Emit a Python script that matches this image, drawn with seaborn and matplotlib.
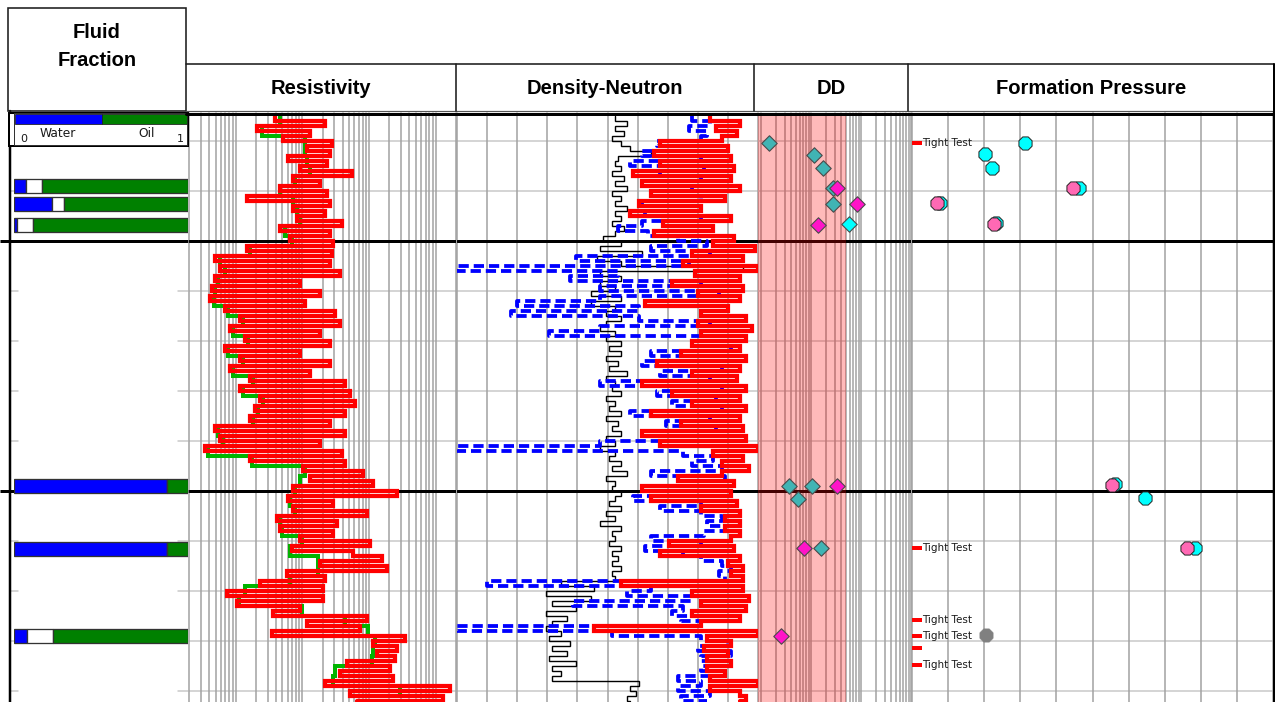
import numpy as np
import matplotlib
matplotlib.use("Agg")
import matplotlib.pyplot as plt
from matplotlib.patches import Rectangle
from matplotlib.ticker import NullLocator
import seaborn as sns

sns.set_theme(style="white")
plt.rcParams["font.family"] = ["DejaVu Sans"]

# ---------------------------------------------------------------- data
# Logs sampled every 1 m from 2025 m (shallow resistivity every 2 m)
res_deep = [3.9, 21.8, 2.1, 13, 5.1, 27.7, 11.7, 25.9, 6.1, 23.3,
            9.2, 55, 7.2, 18.4, 4.6, 23.3, 1.5, 25.9, 7.2, 21.8,
            8.3, 39, 4.6, 25.9, 6.5, 28.6, 1.5, 27.7, 0.49, 25.9,
            0.58, 36.6, 0.49, 9.2, 0.44, 18.4, 0.41, 10.9, 0.69, 30.8,
            1.16, 36.6, 0.82, 18.4, 1.38, 25.9, 0.69, 9.2, 1.16, 25.9,
            0.82, 13, 1.64, 43.5, 1.16, 51.6, 2.3, 61, 1.95, 43.5,
            1.64, 25.9, 0.49, 43.5, 0.58, 18.4, 0.35, 39, 1.64, 43.5,
            10.2, 81, 13, 114, 7.2, 261, 6.1, 28.6, 7.2, 93,
            4.2, 33, 4.6, 28.6, 9.2, 103, 7.0, 57, 156, 18.4,
            185, 5.9, 21.8, 2.3, 20.3, 0.74, 20.3, 1.05, 9.2, 3.6,
            93, 11.7, 73, 3.5, 344, 114, 261, 131, 244, 47,
            205, 36.6, 228, 21.8, 1625, 51.6, 1277, 66]

res_shallow = [4.6, 2.5, 10.9, 10.9, 11.7, 13, 7.7, 4.6, 7.2, 8.3,
               9.2, 5.5, 7.0, 1.64, 0.58, 0.69, 0.54, 0.49, 0.47, 0.77,
               1.29, 0.91, 1.53, 0.77, 1.29, 0.91, 1.82, 1.29, 2.57, 2.16,
               1.82, 0.54, 0.65, 0.39, 1.76, 10.9, 9.2, 7.7, 6.5, 7.7,
               4.6, 4.9, 9.8, 6.5, 17.2, 17.2, 6.5, 1.38, 1.11, 9.8,
               43.5, 96, 122, 114, 110, 30.8, 28.6, 290, 61]

bulk_density = [2.80, 2.90, 2.82, 2.89, 2.84, 2.63, 2.86, 2.61, 2.87, 2.63,
                2.88, 2.54, 2.87, 2.57, 2.90, 2.60, 2.85, 2.56, 2.77, 2.53,
                2.87, 2.64, 2.81, 2.61, 2.88, 2.81, 2.95, 2.74, 2.91, 2.71,
                2.96, 2.75, 2.90, 2.67, 2.91, 2.76, 2.90, 2.58, 2.86, 2.77,
                2.92, 2.76, 2.94, 2.77, 2.92, 2.74, 2.90, 2.70, 2.92, 2.62,
                2.90, 2.74, 2.89, 2.57, 2.92, 2.67, 2.90, 2.74, 2.92, 2.60,
                2.90, 2.70, 2.91, 2.57, 2.92, 2.63, 2.96, 2.81, 2.91, 2.84,
                2.93, 2.84, 2.69, 2.88, 2.57, 2.87, 2.60, 2.89, 2.77, 2.90,
                2.85, 2.90, 2.85, 2.90, 2.87, 2.66, 2.88, 2.63, 2.90, 2.86,
                2.91, 2.87, 2.91, 2.50, 2.91, 2.74, 2.93, 2.77, 2.92, 2.74,
                2.90, 2.77, 2.41, 2.96, 2.79, 2.87, 2.78, 2.86, 2.79, 2.87,
                2.79, 2.85, 2.80, 2.96, 2.80, 2.90, 2.92, 2.90]

neutron = [2.74, 2.80, 2.73, 2.79, 2.77, 2.62, 2.81, 2.57, 2.77, 2.53,
           2.78, 2.63, 2.77, 2.57, 2.74, 2.60, 2.77, 2.57, 2.74, 2.58,
           2.77, 2.57, 2.49, 2.59, 2.69, 2.79, 2.60, 2.80, 2.35, 2.73,
           1.95, 2.49, 2.33, 2.77, 2.43, 2.83, 2.43, 2.15, 2.56, 2.13,
           2.56, 2.80, 2.43, 2.26, 2.77, 2.74, 2.87, 2.60, 2.82, 2.57,
           2.84, 2.63, 2.80, 2.43, 2.84, 2.62, 2.82, 2.67, 2.84, 2.53,
           2.80, 2.65, 2.82, 2.57, 2.84, 2.43, 1.95, 2.71, 2.81, 2.74,
           2.84, 2.60, 2.85, 2.80, 2.57, 2.77, 2.54, 2.77, 2.63, 2.77,
           2.84, 2.79, 2.85, 2.78, 2.60, 2.77, 2.58, 2.71, 2.77, 2.84,
           2.87, 2.83, 2.85, 2.05, 2.60, 2.52, 2.74, 2.34, 2.71, 2.67,
           2.78, 2.70, 1.95, 2.47, 2.77, 2.86, 2.76, 2.87, 2.77, 2.86,
           2.77, 2.85, 2.69, 2.77, 2.69, 2.80, 2.70, 2.79]

matrix_density = [2.48, 2.52, 2.48, 2.51, 2.47, 2.50, 2.53, 2.60, 2.49, 2.48,
                  2.50, 2.47, 2.51, 2.48, 2.52, 2.47, 2.50, 2.48, 2.52, 2.48,
                  2.50, 2.47, 2.51, 2.48, 2.44, 2.50, 2.43, 2.57, 2.42, 2.50,
                  2.91, 2.43, 2.50, 2.43, 2.48, 2.40, 2.50, 2.40, 2.48, 2.45,
                  2.50, 2.45, 2.43, 2.48, 2.45, 2.50, 2.46, 2.50, 2.45, 2.49,
                  2.46, 2.52, 2.45, 2.48, 2.47, 2.50, 2.45, 2.48, 2.46, 2.50,
                  2.45, 2.49, 2.47, 2.50, 2.45, 2.48, 2.43, 2.48, 2.46, 2.50,
                  2.47, 2.52, 2.45, 2.48, 2.47, 2.50, 2.48, 2.46, 2.50, 2.45,
                  2.48, 2.43, 2.50, 2.47, 2.48, 2.46, 2.50, 2.47, 2.49, 2.47,
                  2.50, 2.47, 2.48, 2.30, 2.41, 2.25, 2.40, 2.27, 2.35, 2.25,
                  2.32, 2.27, 2.25, 2.30, 2.26, 2.33, 2.27, 2.32, 2.26, 2.35,
                  2.27, 2.30, 2.27, 2.56, 2.53, 2.55, 2.52, 2.53]

# Fluid fractions at sampled depths (water / unresolved / oil)
ff_depth = [2039.0, 2042.6, 2046.8, 2099.0, 2111.5, 2129.0]
ff_water = [0.07, 0.22, 0.02, 0.88, 0.88, 0.075]
ff_other = [0.09, 0.07, 0.09, 0.0, 0.0, 0.15]
ff_oil = [0.84, 0.71, 0.89, 0.12, 0.12, 0.775]

# Drawdown mobility
dd_teal_depth = [2030.4, 2032.8, 2035.4, 2039.4, 2042.6, 2099.0, 2099.0, 2101.6, 2111.4]
dd_teal_value = [1.45, 11.5, 17.4, 27.5, 27.5, 3.6, 10.5, 5.5, 15.8]
dd_mag_depth = [2039.4, 2042.6, 2046.8, 2099.0, 2111.4, 2129.0]
dd_mag_value = [33, 83, 13.8, 33, 7.2, 2.5]
dd_cyan_depth = [2046.6]
dd_cyan_value = [57.5]
dd_band = (0.87, 50)

# Formation pressure
fp_cyan_depth = [2030.4, 2032.6, 2035.4, 2039.4, 2042.4, 2046.4, 2098.6, 2101.4, 2111.4]
fp_cyan_value = [3056, 3001, 3011, 3131, 2939, 3016, 3181, 3223, 3292]
fp_pink_depth = [2039.4, 2042.4, 2046.6, 2098.8, 2111.4]
fp_pink_value = [3123, 2935, 3014, 3177, 3281]
fp_grey_depth = [2128.8]
fp_grey_value = [3002]

tight_depth = [2030.4, 2111.4, 2125.8, 2129.0, 2131.4, 2134.8]
tight_value = [2907.6] * 6
tight_label = ["Tight Test", "Tight Test", "Tight Test", "Tight Test", "", "Tight Test"]

track_titles = ["Resistivity", "Density-Neutron", "DD", "Formation Pressure"]

depth_1m = np.arange(2025, 2025 + len(res_deep))
depth_2m = np.arange(2025, 2025 + 2 * len(res_shallow), 2)

# ---------------------------------------------------------------- layout
W, H = 1275, 702
TOP_DEPTH, BASE_DEPTH = 2024.4, 2142.2
Y0, Y1 = 113, 702
PX = 0.72  # points per pixel at 100 dpi

fig = plt.figure(figsize=(W / 100, H / 100), dpi=100)


def pix_axes(zorder):
    ax = fig.add_axes([0, 0, 1, 1], zorder=zorder)
    ax.set_xlim(0, W)
    ax.set_ylim(H, 0)
    ax.axis("off")
    ax.patch.set_alpha(0)
    return ax


bg = pix_axes(0)
top = pix_axes(20)


def track(x0, x1, zorder=2):
    ax = fig.add_axes([x0 / W, 1 - Y1 / H, (x1 - x0) / W, (Y1 - Y0) / H], zorder=zorder)
    ax.set_facecolor("none")
    for s in ax.spines.values():
        s.set_visible(False)
    return ax


def finish(ax, xlim, log=False):
    if log:
        ax.set_xscale("log")
    ax.set_xlim(*xlim)
    ax.set_ylim(BASE_DEPTH, TOP_DEPTH)
    ax.set_xlabel("")
    ax.set_ylabel("")
    ax.xaxis.set_major_locator(NullLocator())
    ax.xaxis.set_minor_locator(NullLocator())
    ax.yaxis.set_major_locator(NullLocator())
    ax.yaxis.set_minor_locator(NullLocator())
    ax.grid(False)


def depth_grid(ax):
    for d in range(2030, 2141, 10):
        if d in (2050, 2100):
            ax.axhline(d, color="black", lw=3 * PX, zorder=1.2)
        else:
            ax.axhline(d, color="#c8c8c8", lw=1.5 * PX, zorder=0.5)


def vgrid(ax, values):
    for v in values:
        ax.axvline(v, color="#a0a0a0", lw=1.5 * PX, zorder=0.6, clip_on=False)


def curve(ax, values, depth, color, lw, z, ls="-"):
    sns.lineplot(x=values, y=depth, orient="y", sort=False, estimator=None,
                 color=color, linewidth=lw, linestyle=ls, drawstyle="steps-pre",
                 solid_joinstyle="miter", zorder=z, legend=False, ax=ax)


# ---- Resistivity track
ax_res = track(189, 456)
ax_res.set_xscale("log")
res_grid = [m * 10.0 ** e for e in range(-1, 4) for m in range(1, 10)]
res_grid = [v for v in res_grid if 0.2 <= v <= 2000]
vgrid(ax_res, res_grid)
depth_grid(ax_res)
curve(ax_res, res_shallow, depth_2m, "#00b400", 4 * PX, 2)
curve(ax_res, res_deep, depth_1m, "#ff0000", 4.2 * PX, 3)
finish(ax_res, (0.2, 2000), log=True)

# ---- Density-neutron track
ax_dn = track(457, 758)
vgrid(ax_dn, np.linspace(1.95, 2.96, 11))
depth_grid(ax_dn)
curve(ax_dn, matrix_density, depth_1m, "black", 1.4 * PX, 2)
curve(ax_dn, neutron, depth_1m, "#0000ff", 3.8 * PX, 3, ls=(0, (2.7, 1.3)))
curve(ax_dn, bulk_density, depth_1m, "#ff0000", 4.2 * PX, 4)
finish(ax_dn, (1.95, 2.96))

# ---- DD track
ax_dd = track(758, 911)
ax_dd.set_xscale("log")
dd_grid = [m * 10.0 ** e for e in range(0, 3) for m in range(1, 10)] + [1000]
vgrid(ax_dd, dd_grid)
depth_grid(ax_dd)
ax_dd.axvspan(*dd_band, color="#ff0000", alpha=0.27, lw=0, zorder=1.5)
sns.scatterplot(x=dd_teal_value, y=dd_teal_depth, marker="D", s=62, color="#40b4b4",
                edgecolor="#4a4a4a", linewidth=0.8, zorder=5, legend=False, ax=ax_dd)
sns.scatterplot(x=dd_mag_value, y=dd_mag_depth, marker="D", s=62, color="#ff14c8",
                edgecolor="#4a4a4a", linewidth=0.8, zorder=6, legend=False, ax=ax_dd)
sns.scatterplot(x=dd_cyan_value, y=dd_cyan_depth, marker="D", s=62, color="#00ffff",
                edgecolor="#4a4a4a", linewidth=0.8, zorder=6, legend=False, ax=ax_dd)
finish(ax_dd, (0.87, 1000), log=True)

# ---- Formation pressure track
ax_fp = track(912, 1273)
vgrid(ax_fp, np.arange(2900, 3401, 50))
depth_grid(ax_fp)
sns.scatterplot(x=fp_cyan_value, y=fp_cyan_depth, marker="8", s=105, color="#00ffff",
                edgecolor="#222222", linewidth=0.7, zorder=5, legend=False, ax=ax_fp)
sns.scatterplot(x=fp_pink_value, y=fp_pink_depth, marker="8", s=105, color="#ff69b4",
                edgecolor="#222222", linewidth=0.7, zorder=6, legend=False, ax=ax_fp)
sns.scatterplot(x=fp_grey_value, y=fp_grey_depth, marker="8", s=105, color="#808080",
                edgecolor="#808080", linewidth=0.5, zorder=6, legend=False, ax=ax_fp)
dash = [(-1, -0.4), (1, -0.4), (1, 0.4), (-1, 0.4)]
sns.scatterplot(x=tight_value, y=tight_depth, marker=dash, s=45, color="#ff0000",
                linewidth=0, zorder=7, legend=False, ax=ax_fp)
for p, d, lab in zip(tight_value, tight_depth, tight_label):
    if lab:
        ax_fp.annotate(lab, (p, d), xytext=(3.6, -0.3), textcoords="offset points",
                       ha="left", va="center", fontsize=7.5, color="#1a1a1a", zorder=8)
finish(ax_fp, (2900, 3400))

# ---- Fluid fraction track
ax_ff = track(14, 188, zorder=3)
left_other = [w for w in ff_water]
left_oil = [w + o for w, o in zip(ff_water, ff_other)]
bar_kw = dict(height=2.8, edgecolor="#333333", linewidth=1.3 * PX, zorder=3)
ax_ff.barh(ff_depth, ff_water, left=0, color="#0000ff", **bar_kw)
ax_ff.barh(ff_depth, ff_other, left=left_other, color="white", **bar_kw)
ax_ff.barh(ff_depth, ff_oil, left=left_oil, color="#008000", **bar_kw)
finish(ax_ff, (0, 1))

# ---------------------------------------------------------------- frame
def yd(d):
    return 241 + (d - 2050) * 5


# thick marker lines across the fluid column
for d in (2050, 2100):
    bg.plot([0, 189], [yd(d), yd(d)], color="black", lw=3 * PX, solid_capstyle="butt")
# depth ticks in the fluid column
for d in range(2030, 2141, 10):
    if d in (2050, 2100):
        continue
    bg.plot([10, 18], [yd(d), yd(d)], color="#c8c8c8", lw=1.5 * PX)
    bg.plot([178, 188], [yd(d), yd(d)], color="#c8c8c8", lw=1.5 * PX)
# fluid column left border
bg.plot([9.5, 9.5], [111, 702], color="black", lw=2.5 * PX)

# header boxes
top.add_patch(Rectangle((8, 8), 178, 103, fill=False, edgecolor="#1e1e1e", lw=1.6 * PX))
top.plot([186, 1274], [64, 64], color="#1e1e1e", lw=1.6 * PX)
top.plot([186, 1274], [111, 111], color="#555555", lw=1.2 * PX)
top.plot([186, 1274], [113.5, 113.5], color="black", lw=3 * PX)
for x in (456, 754, 908):
    top.plot([x, x], [64, 111], color="#1e1e1e", lw=1.6 * PX)
top.plot([1274, 1274], [64, 702], color="black", lw=2 * PX)

hfont = dict(family=["Liberation Sans", "DejaVu Sans"], fontweight="bold", fontsize=14.5,
             color="black", ha="center", va="baseline")
top.text(97, 38, "Fluid", **hfont)
top.text(97, 66, "Fraction", **hfont)
for cx, title in zip((321, 605, 831, 1091), track_titles):
    top.text(cx, 94, title, **hfont)

# fluid legend
top.add_patch(Rectangle((9, 113), 179, 33, facecolor="white", edgecolor="black", lw=2 * PX))
top.add_patch(Rectangle((14, 113), 173, 32, fill=False, edgecolor="#333333", lw=1 * PX))
top.add_patch(Rectangle((15, 114), 87, 9.5, facecolor="#0000ff", edgecolor="#222222", lw=0.8 * PX))
top.add_patch(Rectangle((102, 114), 85, 9.5, facecolor="#008000", edgecolor="#222222", lw=0.8 * PX))
lfont = dict(fontsize=8.8, color="#1a1a1a", va="baseline")
top.text(40, 137, "Water", ha="left", **lfont)
top.text(138, 137, "Oil", ha="left", **lfont)
top.text(20, 142.5, "0", ha="left", fontsize=8, color="#1a1a1a", va="baseline")
top.text(177, 142.5, "1", ha="left", fontsize=8, color="#1a1a1a", va="baseline")

fig.savefig("out.png", dpi=100)
